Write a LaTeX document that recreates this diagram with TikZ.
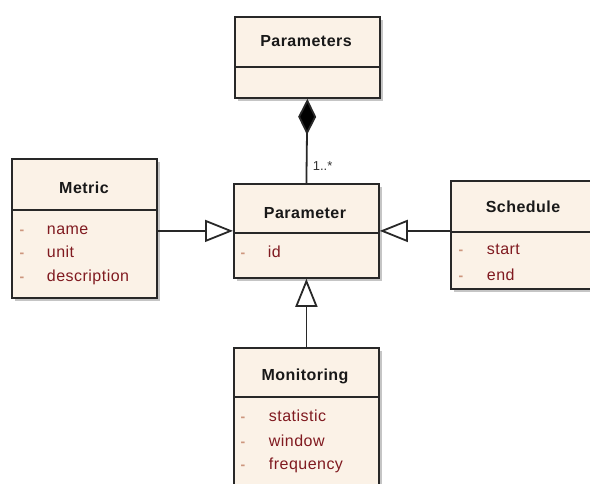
\documentclass[tikz,border=0pt]{standalone}
\usepackage{fontspec}
\setmainfont{Liberation Sans}
\newfontfamily\umlfont[LetterSpace=3]{Liberation Sans}
\usetikzlibrary{arrows.meta,shadows}
\definecolor{cream}{RGB}{251,242,231}
\definecolor{attrred}{RGB}{128,26,32}
\definecolor{hyphcol}{RGB}{205,150,125}
\definecolor{linecol}{RGB}{40,40,40}

\begin{document}
\begin{tikzpicture}[x=1pt,y=-1pt,line width=1.8pt,
    class box/.style={draw=linecol,fill=cream,anchor=north west,inner sep=0pt,minimum width=145pt,
        drop shadow={shadow xshift=3.5pt,shadow yshift=-3.5pt,fill=black!45}},
    class name/.style={font=\umlfont\fontsize{16}{18}\selectfont\bfseries,text=black!90},
    attr/.style={font=\umlfont\fontsize{16}{18}\selectfont,text=attrred,anchor=west,inner sep=0pt,text height=11pt,text depth=3pt},
    hyph/.style={font=\fontsize{14}{16}\selectfont\bfseries,text=hyphcol,inner sep=0pt,text height=11pt,text depth=3pt},
    gen/.style={draw=linecol,-{Triangle[open,fill=white,length=28pt,width=22pt]}}]

    \useasboundingbox (0,0) rectangle (590,483);

    % classes
    \node[class box,minimum height=81pt] (params) at (234,16) {};
    \node[class box,minimum height=94pt] (param) at (233,183) {};
    \node[class box,minimum height=139pt] (metric) at (11,158) {};
    \node[class box,minimum height=108pt] (sched) at (450,180) {};
    \node[class box,minimum height=140pt] (monit) at (233,347) {};

    % compartments
    \draw[linecol] (params.west |- 0,67) -- (params.east |- 0,67);
    \draw[linecol] (param.west |- 0,233) -- (param.east |- 0,233);
    \draw[linecol] (metric.west |- 0,210) -- (metric.east |- 0,210);
    \draw[linecol] (sched.west |- 0,232) -- (sched.east |- 0,232);
    \draw[linecol] (monit.west |- 0,397) -- (monit.east |- 0,397);

    \node[class name] (paramsT) at (306,41) {Parameters};
    \node[class name] (paramT) at (305,213) {Parameter};
    \node[class name] (metricT) at (84,188) {Metric};
    \node[class name] (schedT) at (523,207) {Schedule};
    \node[class name] (monitT) at (305,376) {Monitoring};

    % attributes
    \node[hyph] (h1) at (243,253) {-};  \node[attr] (id) at (267,253) {id};
    \node[hyph] (h2) at (22,230) {-};   \node[attr] (name) at (46,230) {name};
    \node[hyph] (h3) at (22,253) {-};   \node[attr] (unit) at (46,253) {unit};
    \node[hyph] (h4) at (22,277) {-};   \node[attr] (descr) at (46,277) {description};
    \node[hyph] (h5) at (461,250) {-};  \node[attr] (start) at (486,250) {start};
    \node[hyph] (h6) at (461,276) {-};  \node[attr] (end) at (486,276) {end};
    \node[hyph] (h7) at (243,417) {-};  \node[attr] (stat) at (268,417) {statistic};
    \node[hyph] (h8) at (243,442) {-};  \node[attr] (window) at (268,442) {window};
    \node[hyph] (h9) at (243,465) {-};  \node[attr] (freq) at (268,465) {frequency};

    % relations
    \draw[draw=linecol,{Diamond[length=36pt,width=18pt,fill=black]}-] (params.south) -- node[pos=0.8,anchor=west,xshift=2pt,font=\fontsize{13}{15}\selectfont,text=black!80] (mult) {1..*} (param.north);
    \draw[gen] (metric.east |- param.west) -- (param.west);
    \draw[gen] (sched.west |- param.east) -- (param.east);
    \draw[gen] (monit.north) -- (param.south);
\end{tikzpicture}
\end{document}
